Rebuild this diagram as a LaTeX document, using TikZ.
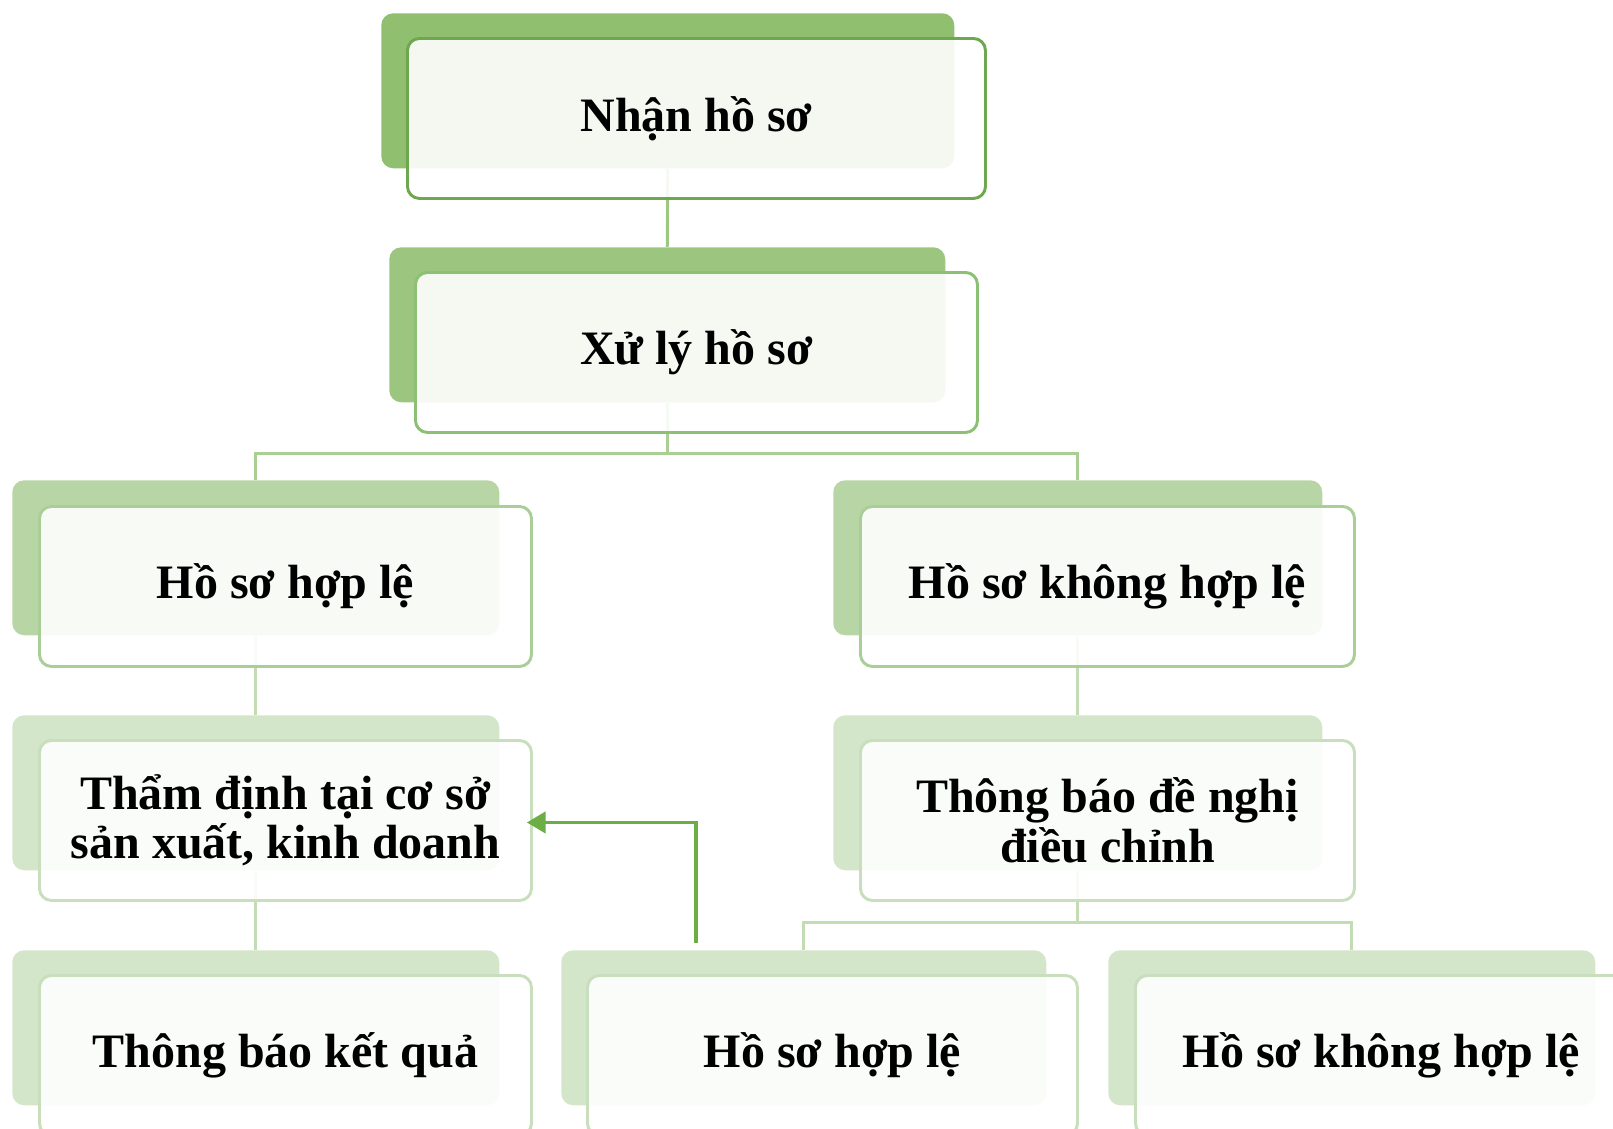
\documentclass[tikz,border=0pt]{standalone}
\usepackage{fontspec}
\setmainfont{Liberation Serif}
\usetikzlibrary{arrows.meta,calc}
\definecolor{backA}{HTML}{8FBF6F}
\definecolor{backB}{HTML}{9CC680}
\definecolor{backC}{HTML}{B8D6A5}
\definecolor{backD}{HTML}{D4E6C9}
\definecolor{lineA}{HTML}{6DA84E}
\definecolor{lineB}{HTML}{8CC074}
\definecolor{lineC}{HTML}{AACE98}
\definecolor{lineD}{HTML}{C8DEBC}
\definecolor{connA}{HTML}{9DC884}
\definecolor{connB}{HTML}{A9CF94}
\definecolor{connC}{HTML}{C3DCB3}
\definecolor{arrowgreen}{HTML}{6AAE45}
\tikzset{
  backbox/.style={anchor=north west, rounded corners=9pt, inner sep=0pt, draw=none, minimum height=116.25pt},
  frontbox/.style={anchor=north west, rounded corners=9pt, inner sep=0pt, line width=2.2pt, fill=white, fill opacity=0.9, text opacity=1, minimum height=120pt, align=center, font=\fontsize{36}{37}\selectfont\bfseries, text=black},
  connector/.style={line width=2.2pt},
  backarrow/.style={line width=2.3pt, draw=arrowgreen, -{Triangle[length=14pt,width=16pt]}}
}
\begin{document}
\begin{tikzpicture}[x=0.75pt,y=-0.75pt]
\useasboundingbox (0,0) rectangle (1613,1128);
\clip (0,0) rectangle (1613,1128);
% back boxes
\node[backbox, fill=backA, minimum width=429.75pt] (b1) at (381,13) {};
\node[backbox, fill=backB, minimum width=417pt] (b2) at (389,247) {};
\node[backbox, fill=backC, minimum width=365.25pt] (b3) at (12,480) {};
\node[backbox, fill=backC, minimum width=366.75pt] (b4) at (833,480) {};
\node[backbox, fill=backD, minimum width=365.25pt] (b5) at (12,715) {};
\node[backbox, fill=backD, minimum width=366.75pt] (b6) at (833,715) {};
\node[backbox, fill=backD, minimum width=365.25pt] (b7) at (12,950) {};
\node[backbox, fill=backD, minimum width=363.75pt] (b8) at (561,950) {};
\node[backbox, fill=backD, minimum width=365.25pt] (b9) at (1108,950) {};
% connectors
\coordinate (j2) at ($(b2.south)+(0,51)$);
\coordinate (j6) at ($(b6.south)+(0,52)$);
\draw[connector, draw=connA] (b1.south) -- (b2.north);
\draw[connector, draw=connB] (b2.south) -- (j2) -| (b3.north);
\draw[connector, draw=connB] (j2) -| (b4.north);
\draw[connector, draw=connC] (b3.south) -- (b5.north);
\draw[connector, draw=connC] (b4.south) -- (b6.north);
\draw[connector, draw=connC] (b5.south) -- (b7.north);
\draw[connector, draw=connC] (b6.south) -- (j6) -| (b8.north);
\draw[connector, draw=connC] (j6) -| (b9.north);
% front boxes
\node[frontbox, draw=lineA, minimum width=433.5pt] (f1) at (406,37) {Nhận hồ sơ};
\node[frontbox, draw=lineB, minimum width=421.5pt] (f2) at (414,271) {Xử lý hồ sơ};
\node[frontbox, draw=lineC, minimum width=369pt] (f3) at (38,505) {Hồ sơ hợp lệ};
\node[frontbox, draw=lineC, minimum width=370.5pt] (f4) at (859,505) {Hồ sơ không hợp lệ};
\node[frontbox, draw=lineD, minimum width=369pt] (f5) at (38,739) {Thẩm định tại cơ sở\\sản xuất, kinh doanh};
\node[frontbox, draw=lineD, minimum width=370.5pt] (f6) at (859,739) {Thông báo đề nghị\\điều chỉnh};
\node[frontbox, draw=lineD, minimum width=369pt] (f7) at (38,974) {Thông báo kết quả};
\node[frontbox, draw=lineD, minimum width=367.5pt] (f8) at (586,974) {Hồ sơ hợp lệ};
\node[frontbox, draw=lineD, minimum width=369pt] (f9) at (1134,974) {Hồ sơ không hợp lệ};
% return arrow
\coordinate (arrstart) at ($(b8.north west)+(135,-7)$);
\coordinate (arrend) at ($(f5.east)+(-6,2)$);
\draw[backarrow] (arrstart) |- (arrend);
\end{tikzpicture}
\end{document}
